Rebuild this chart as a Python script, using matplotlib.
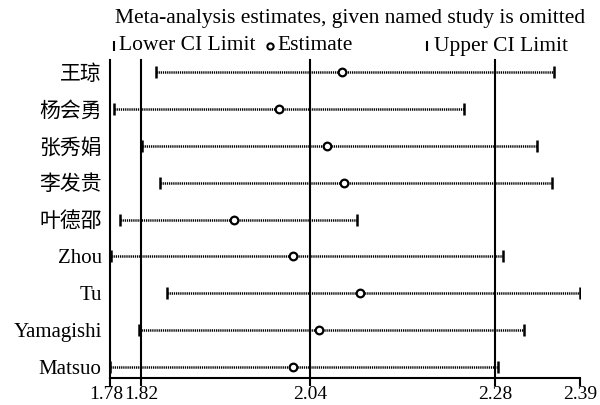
import matplotlib
matplotlib.use('Agg')
import matplotlib.pyplot as plt
from matplotlib.lines import Line2D
from matplotlib.transforms import ScaledTranslation

plt.rcParams['font.family'] = ['Liberation Serif', 'Noto Sans CJK SC']

studies = ['王琼', '杨会勇', '张秀娟', '李发贵', '叶德邵', 'Zhou', 'Tu', 'Yamagishi', 'Matsuo']
lower = [1.840, 1.785, 1.822, 1.845, 1.793, 1.781, 1.854, 1.817, 1.780]
estimate = [2.081, 1.999, 2.061, 2.084, 1.941, 2.018, 2.104, 2.051, 2.017]
upper = [2.356, 2.239, 2.334, 2.354, 2.101, 2.290, 2.390, 2.317, 2.284]

xticks = [1.78, 1.82, 2.04, 2.28, 2.39]
ref_lines = [1.82, 2.04, 2.28]

W, H = 600, 405
fig = plt.figure(figsize=(W / 100, H / 100), dpi=100)

def px(x, y):
    return x / W, 1 - y / H

# axes box in pixels: left 110, right 580, top 60, bottom 378
ax = fig.add_axes([110 / W, 1 - 378 / H, 470 / W, 318 / H])
ax.set_xlim(1.78, 2.39)
row0, step = 72.3, 36.8
ax.set_ylim((378 - row0) / step, (60 - row0) / step)

for v in ref_lines:
    ax.axvline(v, color='black', lw=1.5, clip_on=False)

ypos = list(range(len(studies)))
ax.hlines(ypos, lower, upper, color='black', lw=1.8, linestyles=(0, (0.5, 0.35)))
ax.plot(lower, ypos, ls='none', marker='|', ms=8, mew=1.8, color='black')
ax.plot(upper, ypos, ls='none', marker='|', ms=8, mew=1.8, color='black')
ax.plot(estimate, ypos, ls='none', marker='o', ms=5.5, mew=1.6,
        mfc='white', mec='black')

ax.set_yticks(ypos)
ax.set_yticklabels(studies, fontsize=15)
ax.tick_params(axis='y', length=0, pad=6)
ax.set_xticks(xticks)
ax.set_xticklabels([f'{t:.2f}' for t in xticks], fontsize=14)
ax.tick_params(axis='x', length=6, width=1.5, pad=0)
# nudge the two crowded labels apart a little
labs = ax.get_xticklabels()
labs[0].set_transform(labs[0].get_transform() + ScaledTranslation(-0.04, 0, fig.dpi_scale_trans))
labs[1].set_transform(labs[1].get_transform() + ScaledTranslation(0.01, 0, fig.dpi_scale_trans))
for s in ['top', 'right']:
    ax.spines[s].set_visible(False)
ax.spines['left'].set_linewidth(1.5)
ax.spines['bottom'].set_linewidth(1.5)

# header
fig.text(*px(350, 19), 'Meta-analysis estimates, given named study is omitted',
         fontsize=15.5, ha='center', va='center')
ly = 46
fig.add_artist(Line2D([113.5 / W], [1 - ly / H], marker='|', ms=7, mew=1.5,
                      color='black', transform=fig.transFigure))
fig.text(*px(119, ly), 'Lower CI Limit', fontsize=15.5, ha='left', va='center')
fig.add_artist(Line2D([270 / W], [1 - ly / H], marker='o', ms=4.5, mew=1.5,
                      mfc='white', mec='black', transform=fig.transFigure))
fig.text(*px(277, ly), 'Estimate', fontsize=15.5, ha='left', va='center')
fig.add_artist(Line2D([427 / W], [1 - ly / H], marker='|', ms=7, mew=1.5,
                      color='black', transform=fig.transFigure))
fig.text(*px(434, ly), 'Upper CI Limit', fontsize=15.5, ha='left', va='center')

fig.savefig('out.png', dpi=100, facecolor='white')
